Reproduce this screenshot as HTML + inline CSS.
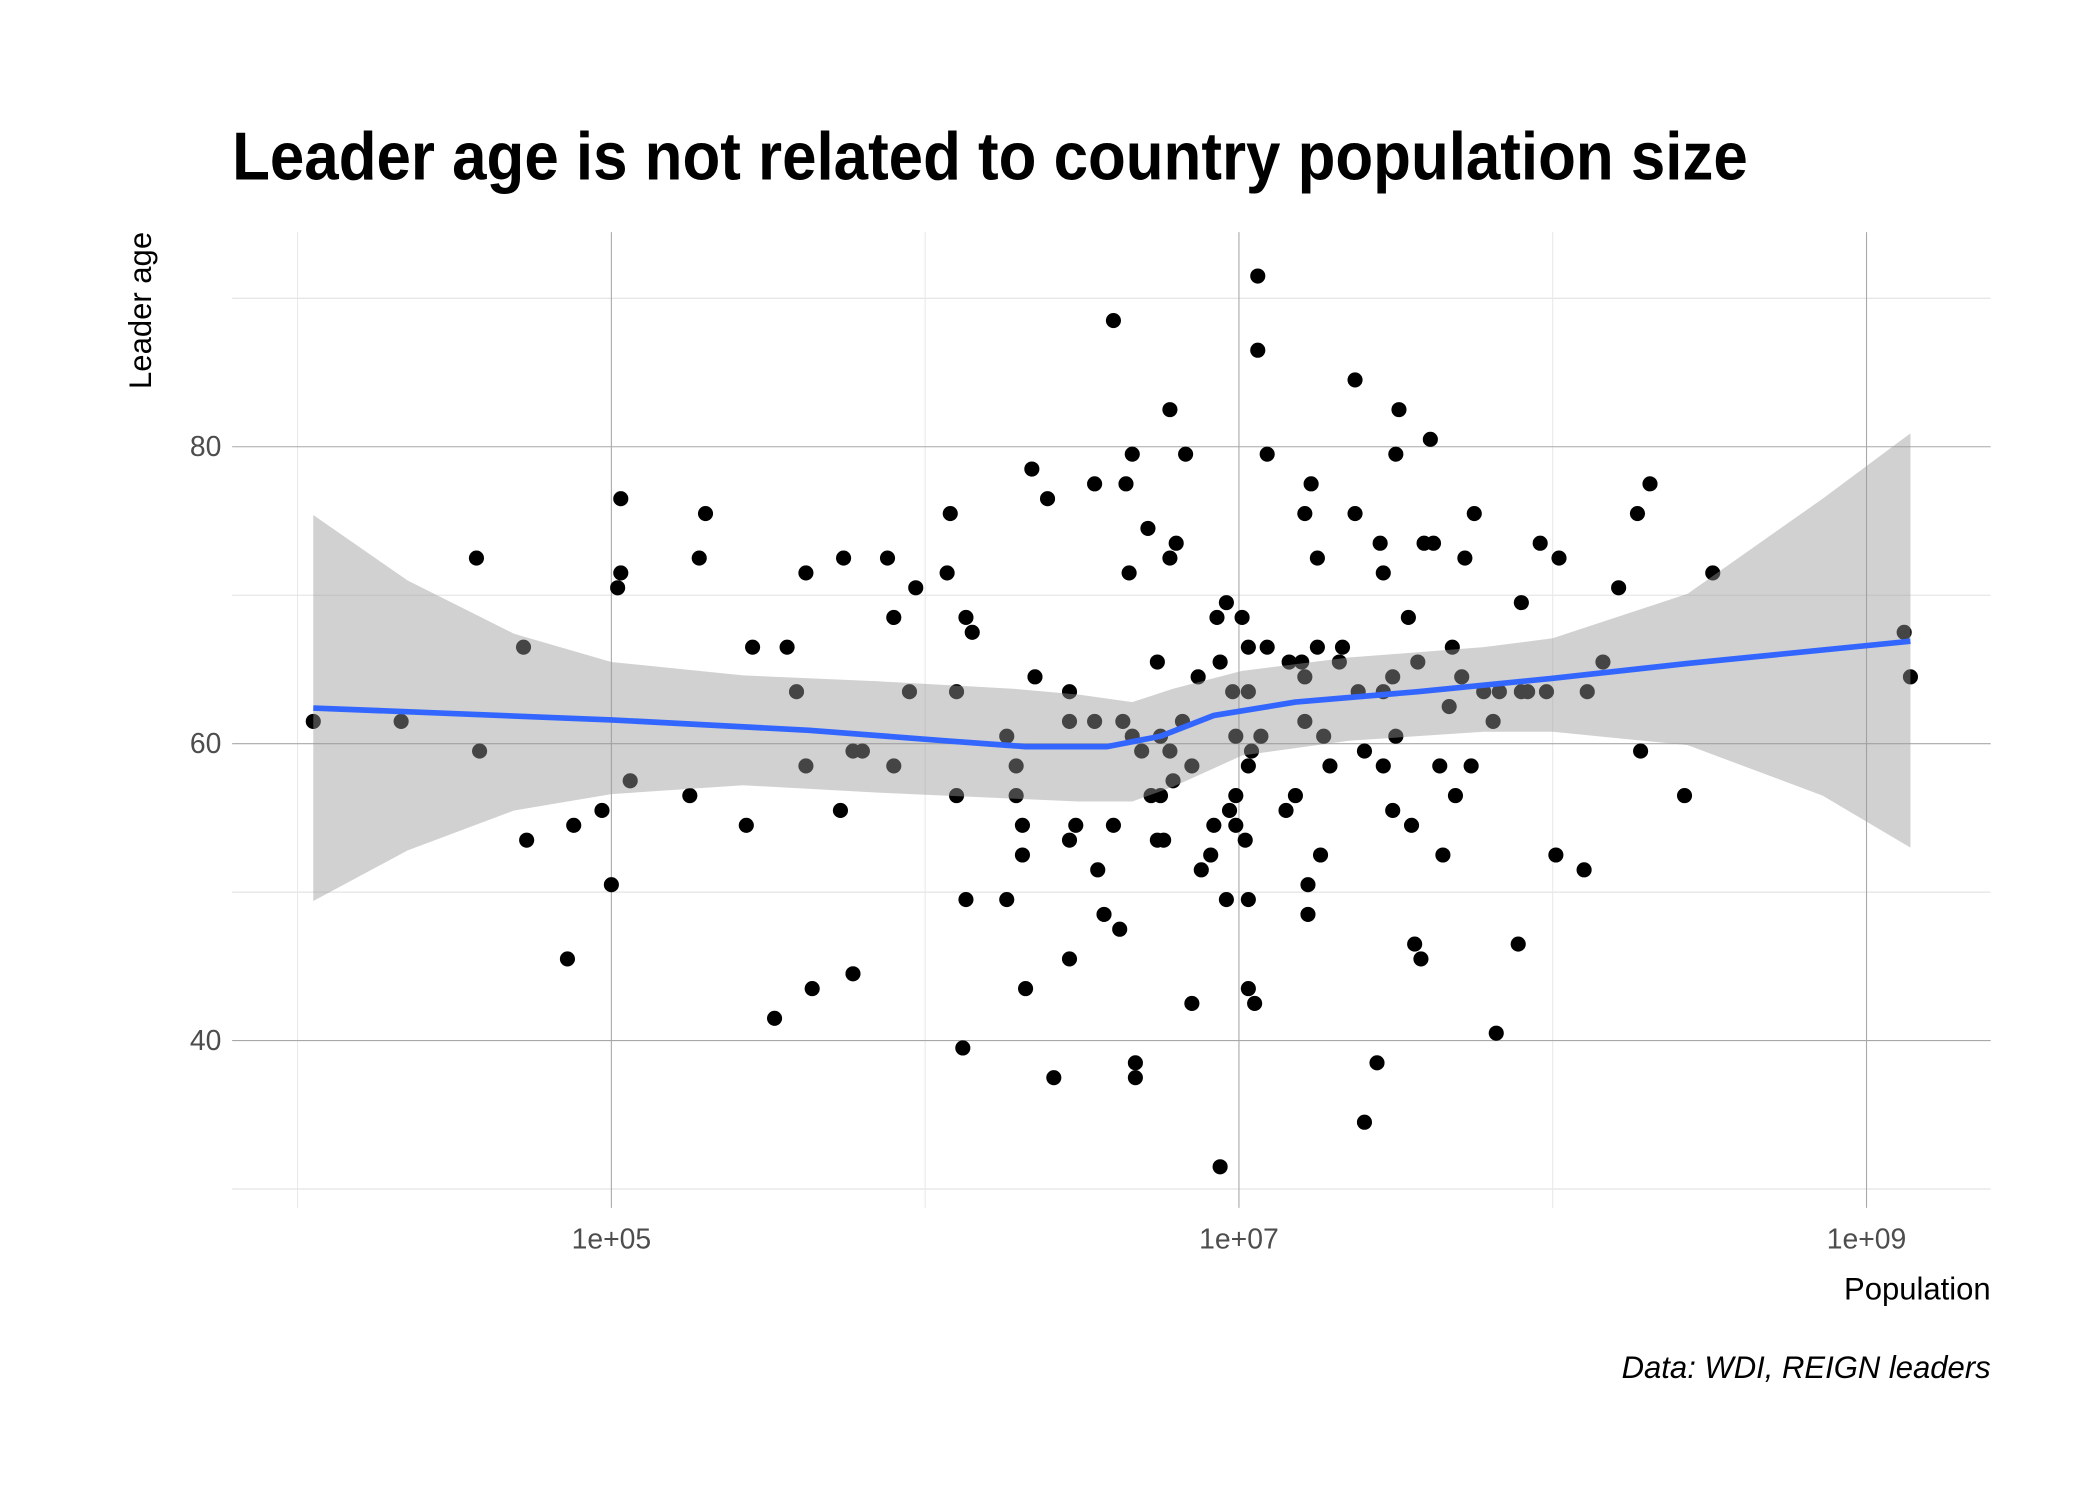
<!DOCTYPE html>
<html><head><meta charset="utf-8"><style>
html,body{margin:0;padding:0;background:#fff;}
svg{display:block;}
text{font-family:"Liberation Sans Narrow","Liberation Sans",sans-serif;}
</style></head><body>
<svg id="chart" width="2100" height="1500" viewBox="0 0 1556 1111.4" xmlns="http://www.w3.org/2000/svg">
<rect width="1556" height="1111.4" fill="#fff"/>
<text x="172" y="133" font-size="50" font-weight="bold" fill="#000" textLength="1123" lengthAdjust="spacingAndGlyphs">Leader age is not related to country population size</text>
<g id="grid"></g>
<g id="points"></g>
<g id="smooth"></g>
<g id="axes"></g>
<text transform="translate(112,230) rotate(-90)" text-anchor="middle" font-size="23" fill="#000">Leader age</text>
<text x="1475" y="963" text-anchor="end" font-size="23" fill="#000">Population</text>
<text x="1475" y="1021" text-anchor="end" font-size="23" font-style="italic" fill="#000">Data: WDI, REIGN leaders</text>
</svg>
<script>
const xTicks = [5, 7, 9];
const xTickLabels = ["1e+05", "1e+07", "1e+09"];
const xMinor = [4, 6, 8];
const yTicks = [40, 60, 80];
const yMinor = [30, 50, 70, 90];
const logPopulation = [4.05,4.33,4.57,4.58,4.72,4.73,4.86,4.88,4.97,5.00,5.02,5.03,5.03,5.06,5.25,5.28,5.30,5.43,5.45,5.52,5.56,5.59,5.62,5.62,5.64,5.73,5.74,5.77,5.77,5.80,5.88,5.90,5.90,5.95,5.97,6.07,6.08,6.10,6.10,6.12,6.13,6.13,6.15,6.26,6.26,6.29,6.29,6.31,6.31,6.32,6.34,6.35,6.39,6.41,6.46,6.46,6.46,6.46,6.48,6.54,6.54,6.55,6.57,6.60,6.60,6.62,6.63,6.64,6.65,6.66,6.66,6.67,6.67,6.69,6.71,6.72,6.74,6.74,6.75,6.75,6.76,6.78,6.78,6.78,6.79,6.80,6.82,6.83,6.85,6.85,6.87,6.88,6.91,6.92,6.93,6.94,6.94,6.96,6.96,6.97,6.98,6.99,6.99,6.99,7.01,7.02,7.03,7.03,7.03,7.03,7.03,7.04,7.05,7.06,7.06,7.07,7.09,7.09,7.15,7.16,7.18,7.20,7.21,7.21,7.21,7.22,7.22,7.23,7.25,7.25,7.26,7.27,7.29,7.32,7.33,7.37,7.37,7.38,7.40,7.40,7.44,7.45,7.46,7.46,7.46,7.49,7.49,7.50,7.50,7.51,7.54,7.55,7.56,7.57,7.58,7.59,7.62,7.61,7.64,7.65,7.67,7.68,7.69,7.71,7.72,7.74,7.75,7.78,7.81,7.82,7.83,7.89,7.90,7.90,7.92,7.96,7.98,8.01,8.02,8.10,8.11,8.16,8.21,8.27,8.28,8.31,8.42,8.51,9.12,9.14];
const leaderAge = [61.5,61.5,72.5,59.5,66.5,53.5,45.5,54.5,55.5,50.5,70.5,76.5,71.5,57.5,56.5,72.5,75.5,54.5,66.5,41.5,66.5,63.5,58.5,71.5,43.5,55.5,72.5,44.5,59.5,59.5,72.5,68.5,58.5,63.5,70.5,71.5,75.5,56.5,63.5,39.5,49.5,68.5,67.5,60.5,49.5,56.5,58.5,54.5,52.5,43.5,78.5,64.5,76.5,37.5,61.5,63.5,53.5,45.5,54.5,77.5,61.5,51.5,48.5,88.5,54.5,47.5,61.5,77.5,71.5,79.5,60.5,38.5,37.5,59.5,74.5,56.5,53.5,65.5,56.5,60.5,53.5,82.5,59.5,72.5,57.5,73.5,61.5,79.5,42.5,58.5,64.5,51.5,52.5,54.5,68.5,65.5,31.5,49.5,69.5,55.5,63.5,56.5,60.5,54.5,68.5,53.5,66.5,63.5,43.5,58.5,49.5,59.5,42.5,91.5,86.5,60.5,66.5,79.5,55.5,65.5,56.5,65.5,75.5,64.5,61.5,48.5,50.5,77.5,72.5,66.5,52.5,60.5,58.5,65.5,66.5,84.5,75.5,63.5,59.5,34.5,38.5,73.5,58.5,71.5,63.5,55.5,64.5,60.5,79.5,82.5,68.5,54.5,46.5,65.5,45.5,73.5,73.5,80.5,58.5,52.5,62.5,66.5,56.5,64.5,72.5,58.5,75.5,63.5,61.5,40.5,63.5,46.5,69.5,63.5,63.5,73.5,63.5,52.5,72.5,51.5,63.5,65.5,70.5,75.5,59.5,77.5,56.5,71.5,67.5,64.5];
const smoothX = [4.05,5.0,5.63,6.06,6.32,6.58,6.75,6.92,7.18,7.57,8.0,8.43,9.14];
const smoothY = [62.4,61.6,60.9,60.2,59.8,59.8,60.5,61.9,62.8,63.5,64.4,65.4,66.9];
const bandX = [4.05,4.35,4.69,5.0,5.42,5.85,6.28,6.49,6.66,6.79,7.01,7.35,7.78,8.0,8.43,8.86,9.14];
const bandUpper = [75.4,71.0,67.4,65.5,64.6,64.2,63.7,63.3,62.8,63.7,64.9,65.8,66.5,67.1,70.1,76.5,80.9];
const bandLower = [49.4,52.8,55.5,56.6,57.2,56.7,56.3,56.1,56.1,57.1,59.2,60.2,60.8,60.8,59.9,56.5,53.0];

const NS = "http://www.w3.org/2000/svg";
const P = {l:172, r:1475, t:172, b:895};
const xs = v => 453 + (v - 5) * 232.5;
const ys = v => 331 + (80 - v) * 11;
function mk(tag, attrs, parent){const e=document.createElementNS(NS,tag);for(const k in attrs)e.setAttribute(k,attrs[k]);parent.appendChild(e);return e;}

const grid = document.getElementById('grid');
yMinor.forEach(v=>{const l=mk('line',{x1:P.l,x2:P.r,y1:ys(v),y2:ys(v),stroke:'#dedede','stroke-width':0.7},grid);

});
xMinor.forEach(v=>{const l=mk('line',{x1:xs(v),x2:xs(v),y1:P.t,y2:P.b,stroke:'#e6e6e6','stroke-width':0.7},grid);

});
yTicks.forEach(v=>{const l=mk('line',{x1:P.l,x2:P.r,y1:ys(v),y2:ys(v),stroke:'#a8a8a8','stroke-width':0.8},grid);

});
xTicks.forEach(v=>{const l=mk('line',{x1:xs(v),x2:xs(v),y1:P.t,y2:P.b,stroke:'#a8a8a8','stroke-width':0.8},grid);

});

const pts = document.getElementById('points');
logPopulation.forEach((lp,i)=>{const c=mk('circle',{cx:xs(lp),cy:ys(leaderAge[i]),r:5.6,fill:'#000'},pts);

});

const sm = document.getElementById('smooth');
let d = bandX.map((x,i)=>(i?'L':'M')+xs(x)+','+ys(bandUpper[i])).join(' ');
for(let i=bandX.length-1;i>=0;i--) d += ' L'+xs(bandX[i])+','+ys(bandLower[i]);
const band = mk('path',{d:d+' Z',fill:'#999999','fill-opacity':0.45},sm);


const ln = mk('path',{d:smoothX.map((x,i)=>(i?'L':'M')+xs(x)+','+ys(smoothY[i])).join(' '),fill:'none',stroke:'#3366FF','stroke-width':4.2,'stroke-linejoin':'round'},sm);



const ax = document.getElementById('axes');
yTicks.forEach(v=>{const t=mk('text',{x:164,y:ys(v)+7,'text-anchor':'end','font-size':21,fill:'#4d4d4d'},ax);t.textContent=v;

});
xTicks.forEach((v,i)=>{const t=mk('text',{x:xs(v),y:925,'text-anchor':'middle','font-size':21,fill:'#4d4d4d'},ax);t.textContent=xTickLabels[i];

});
</script>
</body></html>
